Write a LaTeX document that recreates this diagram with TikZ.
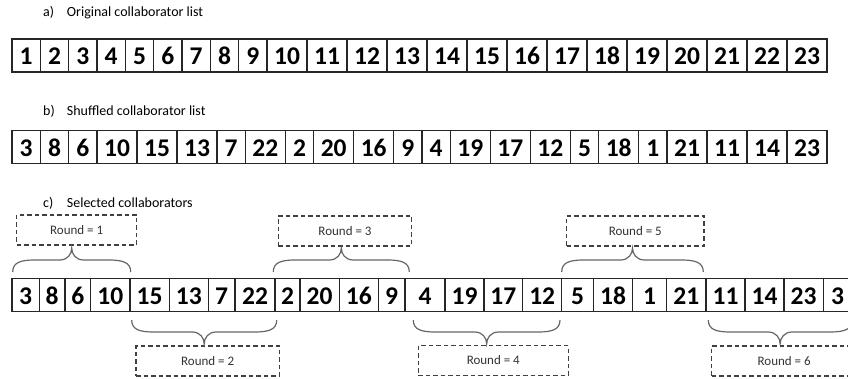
\documentclass[tikz,border=0pt]{standalone}
\usepackage{fontspec}
\setmainfont{Carlito}
\begin{document}
\newcommand\mybrace[5]{% x0 x1 yend ymid ytip
  \pgfmathsetmacro\bxm{(#1+#2)/2}
  \draw[bracestyle] (#1,#3) .. controls (#1,{#3+0.8*(#4-#3)}) and ({#1+8},#4) .. ({#1+22},#4)
    -- ({\bxm-12},#4) .. controls ({\bxm-4},#4) and (\bxm,{#4+0.5*(#5-#4)}) .. (\bxm,#5)
    .. controls (\bxm,{#4+0.5*(#5-#4)}) and ({\bxm+4},#4) .. ({\bxm+12},#4)
    -- ({#2-22},#4) .. controls ({#2-8},#4) and (#2,{#3+0.8*(#4-#3)}) .. (#2,#3);}
\begin{tikzpicture}[x=1pt,y=-1pt,
  cell/.style={draw=black!85, line width=1.3pt, minimum height=33pt, inner sep=0pt,
    font=\fontsize{25.5}{25.5}\selectfont\bfseries, text height=19pt, text depth=0pt},
  rbox/.style={draw=black!75, dashed, dash pattern=on 4.5pt off 3pt, line width=1.3pt,
    minimum height=30pt, inner sep=0pt, font=\fontsize{13}{13}\selectfont, text=black!80},
  lbl/.style={inner sep=0pt, anchor=base west, font=\fontsize{14}{14}\selectfont},
  bracestyle/.style={draw=black!60, line width=1.2pt}]
\useasboundingbox (0,0) rectangle (848,379);
\clip (0,0) rectangle (848,379);
% labels
\node[lbl] (la) at (43,16.7) {a)};
\node[lbl] (ta) at (66.7,16.7) {Original collaborator list};
\node[lbl] (lb) at (43,116) {b)};
\node[lbl] (tb) at (66.7,116) {Shuffled collaborator list};
\node[lbl] (lc) at (43,207.3) {c)};
\node[lbl] (tc) at (66.7,207.3) {Selected collaborators};
% row a
\foreach \t/\l/\r [count=\i] in {1/12/40.33, 2/40.33/68.67, 3/68.67/97, 4/97/125.33,
  5/125.33/153.67, 6/153.67/182, 7/182/210.33, 8/210.33/238.67, 9/238.67/267,
  10/267/307, 11/307/347, 12/347/387, 13/387/427, 14/427/467, 15/467/507, 16/507/547,
  17/547/587, 18/587/627, 19/627/667, 20/667/707, 21/707/747, 22/747/787, 23/787/827}
  \node[cell, minimum width={(\r-\l)*1pt}] (a\i) at ({(\l+\r)/2},55.5) {\t};
% row b
\foreach \t/\l/\r [count=\i] in {3/12/40.33, 8/40.33/68.67, 6/68.67/97, 10/97/137,
  15/137/177, 13/177/217, 7/217/245.33, 22/245.33/285.33, 2/285.33/313.67,
  20/313.67/353.67, 16/353.67/393.67, 9/393.67/422, 4/422/450.33, 19/450.33/490.33,
  17/490.33/530.33, 12/530.33/570.33, 5/570.33/598.67, 18/598.67/638.67, 1/638.67/667,
  21/667/707, 11/707/747, 14/747/787, 23/787/827}
  \node[cell, minimum width={(\r-\l)*1pt}] (b\i) at ({(\l+\r)/2},147) {\t};
% row c
\foreach \t/\l/\r [count=\i] in {3/12/39.3, 8/39.3/65, 6/65/90.7, 10/90.7/130,
  15/130/169.3, 13/169.3/208.3, 7/208.3/235, 22/235/275, 2/275/300, 20/300/339.3,
  16/339.3/378.3, 9/378.3/405, 4/405/445, 19/445/484, 17/484/522.7, 12/522.7/561.7,
  5/561.7/593.3, 18/593.3/632.7, 1/632.7/666.7, 21/666.7/706, 11/706/745, 14/745/784,
  23/784/823.3, 3/823.3/852}
  \node[cell, minimum width={(\r-\l)*1pt}] (c\i) at ({(\l+\r)/2},295) {\t};
% round boxes
\node[rbox, minimum width=120pt] (r1) at (76.7,230) {Round = 1};
\node[rbox, minimum width=133.4pt] (r3) at (345,231) {Round = 3};
\node[rbox, minimum width=137.3pt] (r5) at (635.3,231) {Round = 5};
\node[rbox, minimum width=143.3pt] (r2) at (207.7,361) {Round = 2};
\node[rbox, minimum width=150pt] (r4) at (493.3,360.5) {Round = 4};
\node[rbox, minimum width=145pt] (r6) at (784.2,361) {Round = 6};
% braces
\mybrace{12.7}{130.7}{272}{260}{248}
\mybrace{273.3}{409.3}{272}{260}{248}
\mybrace{561.7}{703.3}{272}{260}{248}
\mybrace{131.7}{276.7}{320}{332}{344}
\mybrace{413.3}{560}{320}{332}{344}
\mybrace{708.3}{852}{320}{332}{344}
\end{tikzpicture}
\end{document}
